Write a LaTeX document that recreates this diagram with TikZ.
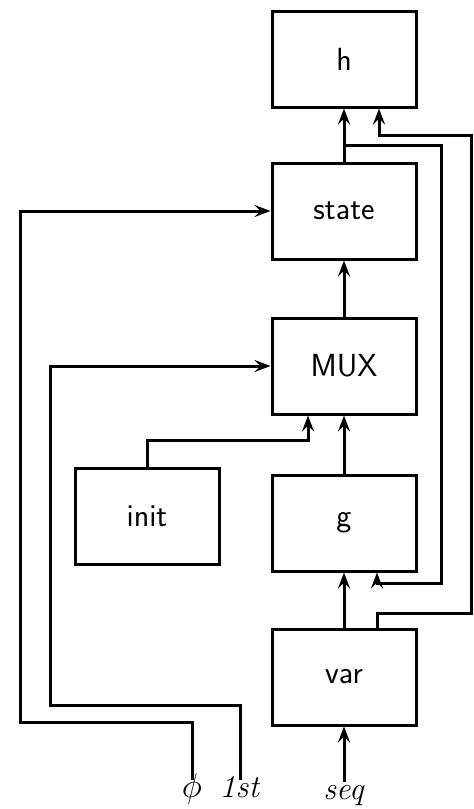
\documentclass[tikz,border=0pt]{standalone}
\usepackage{amsmath,amssymb}
\usepackage{tikz}
\usetikzlibrary{arrows.meta,positioning,calc}

\begin{document}
\begin{tikzpicture}[
        x=0.5pt, y=-0.5pt,
        blk/.style = {draw, line width=1.5pt, minimum width=72pt, minimum height=48pt,
                      inner sep=0pt, font=\sffamily\fontsize{16}{19}\selectfont},
        arr/.style = {-{Stealth[length=8pt, width=6pt, inset=3pt]}, line width=1.5pt},
        lbl/.style = {font=\fontsize{16}{19}\selectfont, anchor=base, inner sep=1.5pt,
                      text height=0.7em, text depth=0.2em}
    ]
        \useasboundingbox (0,0) rectangle (474,809);

        % ---- main column ----
        \node[blk] (h) at (344,59) {h};
        \node[blk, below=26.5pt of h] (state) {state};
        \node[blk, below=28pt of state] (mux) {MUX};
        \node[blk, below=29pt of mux] (g) {g};
        \node[blk, below=27.5pt of g] (var) {var};
        \node[blk, left=25pt of g, yshift=3.5pt] (init) {init};

        % ---- inputs ----
        \node[lbl] (phi) at (192,797) {$\phi$};
        \node[lbl] (first) at (240,797) {\textit{1st}};
        \node[lbl] (seq) at (344,799) {\textit{seq}};

        % ---- links ----
        \draw[arr] (state.north) -- (h.south);
        \draw[arr] (mux.north) -- (state.south);
        \draw[arr] (g.north) -- (mux.south);
        \draw[arr] (var.north) -- (g.south);
        \draw[arr] (seq.north) -- (var.south);
        \draw[arr] (init.north) -- ++(0,-26) -| ([xshift=-18pt]mux.south);

        % feedback of the state into g
        \draw[arr] ([yshift=8pt]state.north) -- ++(97,0) -- ++(0,438)
            -| ([xshift=16.5pt]g.south);
        % var straight up to h
        \draw[arr] ([xshift=16.5pt]var.north) |- ++(94,-14) -- ++(0,-478)
            -| ([xshift=17.5pt]h.south);

        % phi and 1st from below
        \draw[arr] (phi.north) |- (20,722) |- (state.west);
        \draw[arr] (first.north) |- (50,705) |- (mux.west);
    \end{tikzpicture}
\end{document}
